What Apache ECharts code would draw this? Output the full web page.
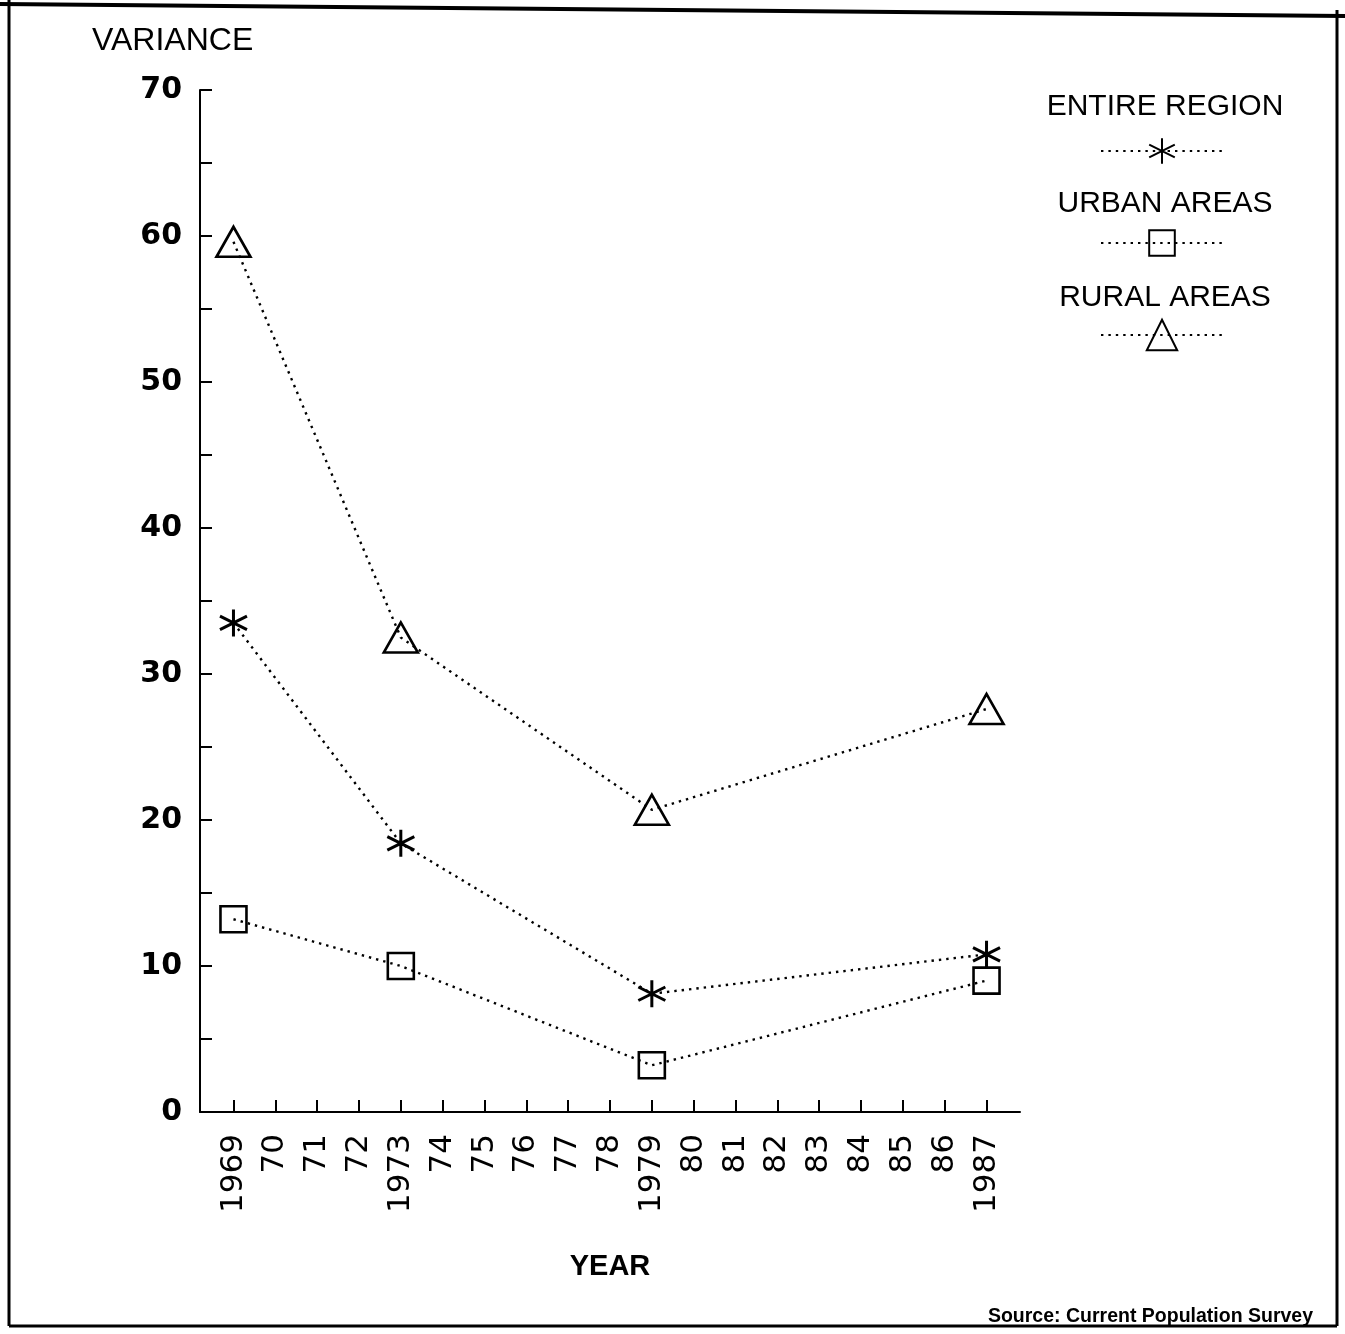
<!DOCTYPE html>
<html>
<head>
<meta charset="utf-8">
<script src="https://cdn.jsdelivr.net/npm/echarts@6/dist/echarts.min.js"></script>
<style>
html,body{margin:0;padding:0;background:#fff;}
#chart{width:1345px;height:1334px;}
</style>
</head>
<body>
<div id="chart"></div>
<script>
// ---- data ----
var years = [1969, 1973, 1979, 1987];
var entireRegion = [33.5, 18.4, 8.1, 10.8];
var urbanAreas = [13.2, 10.0, 3.2, 9.0];
var ruralAreas = [59.6, 32.5, 20.7, 27.6];
var yearTicks = [1969,1970,1971,1972,1973,1974,1975,1976,1977,1978,1979,1980,1981,1982,1983,1984,1985,1986,1987];
var fullYearLabels = [1969, 1973, 1979, 1987];
var seriesNames = ['ENTIRE REGION', 'URBAN AREAS', 'RURAL AREAS'];

function pairs(xs, ys){ return xs.map(function(x,i){ return [x, ys[i]]; }); }

var FONT = 'Liberation Sans, Arial, sans-serif';
var asterisk = 'path://M10,0L10,20M1.34,5L18.66,15M1.34,15L18.66,5';
var lineStyle = {color:'#000', width:2.4, type:[2.4,5]};
var markStyle = {color:'rgba(0,0,0,0)', borderColor:'#000', borderWidth:2.6};
var starStyle = {color:'rgba(0,0,0,0)', borderColor:'#000', borderWidth:3};

var chart = echarts.init(document.getElementById('chart'));
chart.setOption({
  backgroundColor:'#fff',
  animation:false,
  grid:{left:200, right:325, top:90, bottom:222},
  xAxis:{
    type:'value', min:1968.2, max:1987.8,
    name:'YEAR', nameLocation:'middle', nameGap:140,
    nameTextStyle:{fontFamily:FONT, fontSize:29, fontWeight:'bold', color:'#000'},
    axisLine:{show:true, lineStyle:{color:'#000', width:2}},
    axisTick:{show:true, inside:true, length:12, customValues:yearTicks, lineStyle:{color:'#000', width:2}},
    axisLabel:{
      customValues:yearTicks, rotate:90, margin:22,
      fontFamily:'DejaVu Sans, sans-serif', fontSize:31, color:'#000',
      formatter:function(v){ return fullYearLabels.indexOf(v) >= 0 ? String(v) : String(v).slice(2); }
    },
    splitLine:{show:false}
  },
  yAxis:{
    type:'value', min:0, max:70, interval:5,
    axisLine:{show:true, lineStyle:{color:'#000', width:2}},
    axisTick:{show:true, inside:true, length:12, lineStyle:{color:'#000', width:2}},
    axisLabel:{
      margin:18, fontFamily:'DejaVu Sans, sans-serif', fontSize:30, fontWeight:'bold', color:'#000',
      formatter:function(v){ return v % 10 === 0 ? String(v) : ''; }
    },
    splitLine:{show:false}
  },
  legend:[
    {data:[seriesNames[0]], left:1100, top:135, padding:0, itemWidth:122, itemHeight:32, formatter:function(){return '';}, selectedMode:false},
    {data:[seriesNames[1]], left:1100, top:227, padding:0, itemWidth:122, itemHeight:32, formatter:function(){return '';}, selectedMode:false},
    {data:[seriesNames[2]], left:1100, top:316, padding:0, itemWidth:122, itemHeight:38, formatter:function(){return '';}, selectedMode:false}
  ],
  series:[
    {name:seriesNames[0], type:'line', data:pairs(years, entireRegion), symbol:asterisk, symbolSize:27,
     lineStyle:lineStyle, itemStyle:starStyle, z:3},
    {name:seriesNames[1], type:'line', data:pairs(years, urbanAreas), symbol:'rect', symbolSize:26,
     lineStyle:lineStyle, itemStyle:markStyle, z:3},
    {name:seriesNames[2], type:'line', data:pairs(years, ruralAreas), symbol:'triangle', symbolSize:[34,30],
     lineStyle:lineStyle, itemStyle:markStyle, z:3}
  ],
  graphic:[
    {type:'text', left:92, top:25, style:{text:'VARIANCE', font:'32px '+FONT, fill:'#000'}},
    {type:'text', x:1165, y:107, style:{text:'ENTIRE REGION', font:'30px '+FONT, fill:'#000', align:'center', verticalAlign:'middle'}},
    {type:'text', x:1165, y:204, style:{text:'URBAN AREAS', font:'30px '+FONT, fill:'#000', align:'center', verticalAlign:'middle'}},
    {type:'text', x:1165, y:298, style:{text:'RURAL AREAS', font:'30px '+FONT, fill:'#000', align:'center', verticalAlign:'middle'}},
    {type:'text', x:1313, y:1317, style:{text:'Source: Current Population Survey', font:'bold 19.5px '+FONT, fill:'#000', align:'right', verticalAlign:'middle'}},
    {type:'line', shape:{x1:9, y1:0, x2:9, y2:1326}, style:{stroke:'#000', lineWidth:3}},
    {type:'line', shape:{x1:9, y1:1326, x2:1337, y2:1326}, style:{stroke:'#000', lineWidth:3}},
    {type:'line', shape:{x1:1337, y1:10, x2:1337, y2:1326}, style:{stroke:'#000', lineWidth:3}},
    {type:'line', shape:{x1:0, y1:4, x2:1345, y2:16}, style:{stroke:'#000', lineWidth:4}}
  ]
});
</script>
</body>
</html>
